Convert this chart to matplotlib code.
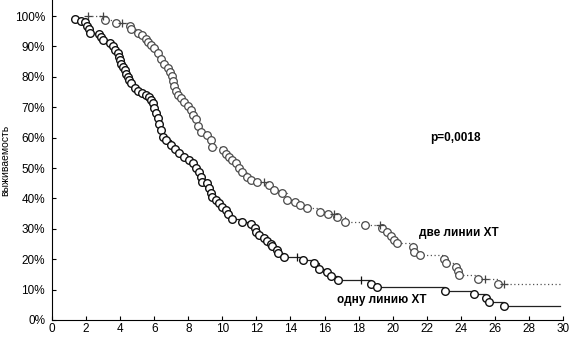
import matplotlib
matplotlib.use("Agg")
import matplotlib.pyplot as plt
from matplotlib.ticker import FuncFormatter

plt.rcParams['font.family'] = ['Liberation Sans', 'DejaVu Sans']

# одну линию ХТ: event times (months) and survival (%)
t1 = [1.34, 1.7, 1.95, 2.05, 2.15, 2.25, 2.76, 2.9, 3.0, 3.39, 3.58, 3.68, 3.87, 3.93, 4.0, 4.07,
      4.16, 4.26, 4.36, 4.46, 4.51, 4.65, 4.85, 5.04, 5.3, 5.49, 5.68, 5.82, 5.91, 6.01, 6.11, 6.2,
      6.3, 6.4, 6.5, 6.7, 6.99, 7.2, 7.47, 7.76, 8.06, 8.25, 8.45, 8.64, 8.74, 8.83, 9.12, 9.22,
      9.32, 9.42, 9.61, 9.81, 10.0, 10.2, 10.35, 10.58, 11.17, 11.66, 11.9, 11.98, 12.14, 12.43,
      12.63, 12.83, 12.92, 13.21, 13.27, 13.6, 14.72, 15.4, 15.68, 16.16, 16.38, 16.8, 18.74,
      19.07, 23.1, 24.79, 25.47, 25.67, 26.54]
s1 = [99.2, 98.4, 97.9, 96.8, 95.7, 94.6, 94.0, 93.0, 92.0, 91.0, 90.0, 88.8, 87.7, 86.6, 85.5, 84.4,
      83.3, 82.2, 81.1, 80.0, 78.9, 77.9, 76.2, 75.3, 74.6, 74.0, 73.5, 72.4, 71.3, 69.6, 68.0, 66.5,
      64.5, 62.5, 60.3, 59.2, 57.5, 56.3, 55.0, 53.8, 52.8, 51.5, 50.0, 48.8, 47.1, 45.5, 45.0, 43.3,
      41.7, 40.6, 39.5, 38.4, 37.3, 36.2, 34.8, 33.2, 32.3, 31.5, 30.2, 29.1, 28.0, 27.0,
      26.0, 24.9, 24.2, 23.0, 21.9, 20.8, 19.8, 18.6, 16.9, 15.7, 14.6, 13.3, 12.0,
      11.0, 9.6, 8.5, 7.4, 5.9, 4.6]
c1_t = [14.38, 18.12]
c1_s = [20.8, 13.3]

# две линии ХТ
t2 = [3.09, 3.74, 4.55, 4.65, 5.04, 5.29, 5.49, 5.62, 5.82, 6.01, 6.2, 6.4, 6.6, 6.79, 6.92, 7.02,
      7.1, 7.18, 7.28, 7.37, 7.57, 7.76, 7.96, 8.15, 8.25, 8.45, 8.6, 8.74, 9.12, 9.32, 9.42, 10.04,
      10.2, 10.4, 10.58, 10.78, 10.97, 11.17, 11.46, 11.66, 12.04, 12.73, 13.02, 13.5, 13.77, 14.28,
      14.57, 14.96, 15.74, 16.23, 16.72, 17.2, 18.37, 19.35, 19.64, 19.93, 20.1, 20.28, 21.2, 21.26,
      21.59, 23.04, 23.14, 23.72, 23.82, 23.88, 25.03, 26.21]
s2 = [98.8, 97.6, 96.8, 95.7, 94.6, 93.8, 92.6, 91.5, 90.5, 89.4, 87.7, 86.0, 84.4, 82.8, 81.5, 80.3,
      78.8, 77.0, 75.3, 74.0, 72.9, 71.8, 70.5, 69.0, 67.5, 66.2, 64.0, 61.9, 60.9, 59.2, 57.0, 55.9,
      54.5, 53.5, 52.6, 51.5, 49.9, 48.8, 47.1, 46.0, 45.5, 44.4, 42.8, 41.7, 39.6, 38.9,
      37.8, 36.7, 35.6, 34.9, 33.8, 32.3, 31.2, 30.2, 29.1, 27.6, 26.4, 25.2, 24.1, 22.5,
      21.4, 20.0, 18.6, 17.5, 16.2, 14.8, 13.4, 11.8]
c2_t = [2.1, 3.0, 4.13, 12.43, 16.58, 19.25, 25.41, 26.54]
c2_s = [100, 100, 97.6, 45.5, 34.9, 31.2, 13.4, 11.8]

t_end = 29.8


def step_path(t, s, ct, cs):
    pts = sorted(list(zip(t, s)) + list(zip(ct, cs)))
    xs = [p[0] for p in pts] + [t_end]
    ys = [p[1] for p in pts] + [pts[-1][1]]
    return xs, ys


fig = plt.figure(figsize=(5.7, 3.37), dpi=100)
ax = fig.add_axes([52 / 570, 17 / 337, 511 / 570, 320 / 337])

x2, y2 = step_path(t2, s2, c2_t, c2_s)
ax.plot(x2, y2, drawstyle='steps-post', color='#555555', lw=0.9, ls=(0, (1, 2)))
ax.plot(t2, s2, 'o', ms=5.5, mfc='white', mec='#4a4a4a', mew=0.9)
ax.plot(c2_t, c2_s, '+', ms=6, color='#444444', mew=0.9)

x1, y1 = step_path(t1, s1, c1_t, c1_s)
ax.plot(x1, y1, drawstyle='steps-post', color='#222222', lw=0.9)
ax.plot(t1, s1, 'o', ms=5.5, mfc='white', mec='#111111', mew=1.0)
ax.plot(c1_t, c1_s, '|', ms=6, color='#111111', mew=0.9)

ax.text(23.66, 59.9, 'p=0,0018', fontsize=8.5, fontweight='bold', ha='center', va='center')
ax.text(23.9, 28.6, 'две линии ХТ', fontsize=8.5, fontweight='bold', ha='center', va='center')
ax.text(19.35, 6.6, 'одну линию ХТ', fontsize=8.5, fontweight='bold', ha='center', va='center')

ax.set_xlim(0, 30)
ax.set_ylim(0, 105.3)
ax.set_xticks(range(0, 31, 2))
ax.set_yticks(range(0, 101, 10))
ax.yaxis.set_major_formatter(FuncFormatter(lambda v, p: '%d%%' % v))
ax.tick_params(direction='in', length=3, width=0.8, labelsize=8.5)
ax.tick_params(axis='x', pad=2)
ax.tick_params(axis='y', pad=5)
ax.spines['top'].set_visible(False)
ax.spines['right'].set_visible(False)
ax.set_ylabel('выживаемость', fontsize=7.5)
ax.yaxis.set_label_coords(-0.082, 0.5)

fig.savefig('out.png', dpi=100)
